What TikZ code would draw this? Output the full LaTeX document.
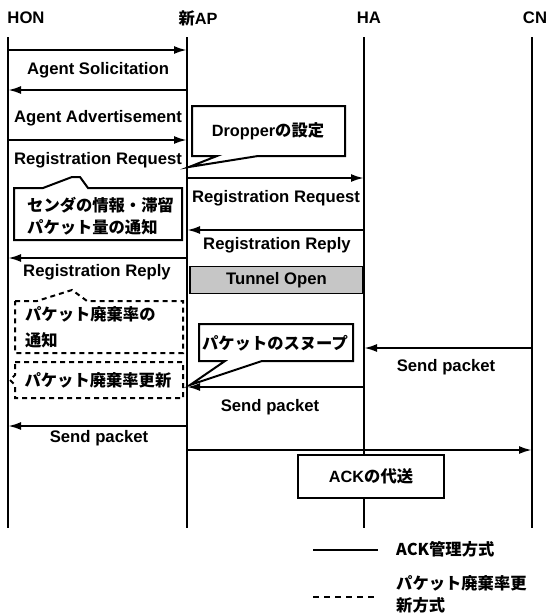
\documentclass[tikz,border=0pt]{standalone}
\usepackage{fontspec}
\setmainfont{Liberation Sans}
\newfontfamily\jp{Noto Sans CJK JP}
\usetikzlibrary{arrows.meta}
\begin{document}
\begin{tikzpicture}[x=1pt,y=-1pt,
  life/.style={line width=2.2pt},
  msg/.style={line width=2.2pt,-{Latex[length=13pt,width=8pt]}},
  txt/.style={font=\fontsize{16.7}{20}\selectfont\bfseries,inner sep=0pt},
  jtxt/.style={font=\jp\fontsize{16.3}{22}\selectfont\bfseries,inner sep=0pt,align=left},
  cbox/.style={line width=2pt,fill=white,line join=miter},
  dbox/.style={line width=2pt,fill=white,dash pattern=on 5pt off 4pt},
  tun/.style={draw,line width=1.8pt,fill=gray!45,minimum width=173pt,minimum height=27pt,inner sep=0pt},
  ackbox/.style={draw,line width=2pt,fill=white,minimum width=146pt,minimum height=43pt,inner sep=0pt}]
\useasboundingbox (0,0) rectangle (550,614);

% headers
\node[txt] (honL) at (26,18) {HON};
\node[jtxt] (apL) at (198,18) {新\fontspec{Liberation Sans Bold}AP};
\node[txt] (haL) at (369,18) {HA};
\node[txt] (cnL) at (535,18) {CN};

% lifelines
\coordinate (hon) at (8,37);   \coordinate (honE) at (8,528);
\coordinate (ap) at (187,37);  \coordinate (apE) at (187,528);
\coordinate (ha) at (364,37);  \coordinate (haE) at (364,528);
\coordinate (cn) at (532,37);  \coordinate (cnE) at (532,528);
\draw[life] (hon) -- (honE);
\draw[life] (ap) -- (apE);
\draw[life] (ha) -- (haE);
\draw[life] (cn) -- (cnE);

% messages
\draw[msg] (hon |- 0,50) -- (ap |- 0,50);
\node[txt] (m1) at (98,70) {Agent Solicitation};
\draw[msg] (ap |- 0,90) -- (hon |- 0,90);
\node[txt] (m2) at (98,118) {Agent Advertisement};
\draw[msg] (hon |- 0,140) -- (ap |- 0,140);
\node[txt] (m3) at (98,160) {Registration Request};
\draw[msg] (ap |- 0,178) -- (ha |- 0,178);
\node[txt] (m4) at (276,198) {Registration Request};
\draw[msg] (ha |- 0,230) -- (ap |- 0,230);
\node[txt] (m5) at (277,245) {Registration Reply};
\draw[msg] (ap |- 0,258) -- (hon |- 0,258);
\node[txt] (m6) at (97,272) {Registration Reply};
\node[tun] (tunnel) at (276.5,280) {\fontsize{16.7}{20}\selectfont\bfseries Tunnel Open};
\draw[msg] (cn |- 0,348) -- (ha |- 0,348);
\node[txt] (m7) at (446,367) {Send packet};
\draw[msg] (ha |- 0,387) -- (ap |- 0,387);
\node[txt] (m8) at (270,407) {Send packet};
\draw[msg] (ap |- 0,426) -- (hon |- 0,426);
\node[txt] (m9) at (99,438) {Send packet};
\draw[msg] (ap |- 0,450) -- (cn |- 0,450);

% ACK box
\node[ackbox] (ack) at (371,476.5) {\jp\fontsize{16.3}{22}\selectfont\bfseries\fontspec{Liberation Sans Bold}ACK\jp\bfseries の代送};

% callouts
\draw[cbox] (192,106) -- (345,106) -- (345,156) -- (258,156) -- (189,167) -- (217,156) -- (192,156) -- cycle;
\node[jtxt] (drop) at (268,131) {\fontspec{Liberation Sans Bold}Dropper\jp\bfseries の設定};

\draw[cbox] (14,188) -- (43,188) -- (72,177) -- (80,177) -- (88,188) -- (182,188) -- (182,240) -- (14,240) -- cycle;
\node[jtxt,anchor=west] (send) at (27,216) {センダの情報・滞留\\パケット量の通知};

\draw[dbox] (15,301) -- (37,301) -- (72,290) -- (87,301) -- (183,301) -- (183,353) -- (15,353) -- cycle;
\node[jtxt,anchor=west] (drate) at (25,327) {パケット廃棄率の\\[4pt]通知};

\draw[dbox] (15,362) -- (183,362) -- (183,398) -- (15,398) -- (15,385) -- (10,380) -- (15,375) -- cycle;
\node[jtxt] (upd) at (98,380) {パケット廃棄率更新};

\draw[cbox] (199,324) -- (353,324) -- (353,361) -- (262,361) -- (190,385) -- (225,361) -- (199,361) -- cycle;
\node[jtxt] (snoop) at (275,343) {パケットのスヌープ};

% legend
\coordinate (la) at (313,550); \coordinate (lb) at (378,550);
\draw[life] (la) -- (lb);
\node[jtxt,anchor=west] (lg1) at (396,549) {ACK管理方式};
\coordinate (lc) at (313,597); \coordinate (ld) at (378,597);
\draw[line width=2.2pt,dash pattern=on 6pt off 5pt] (lc) -- (ld);
\node[jtxt,anchor=west] (lg2) at (396,594) {パケット廃棄率更\\新方式};
\end{tikzpicture}
\end{document}
